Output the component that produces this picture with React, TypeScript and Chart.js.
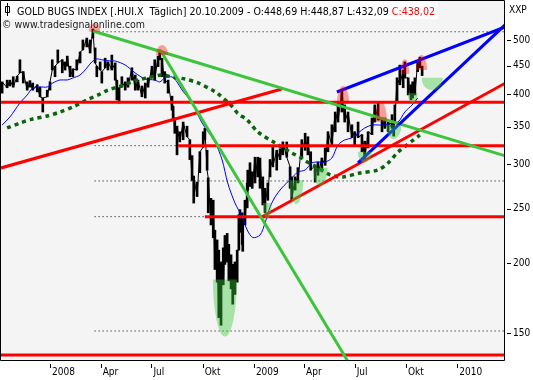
import React, { useEffect, useRef } from "react";
import { Chart, registerables } from "chart.js";

Chart.register(...registerables);

const FONT = "'DejaVu Sans Condensed', 'DejaVu Sans', sans-serif";

// x axis: calendar days counted from 1 Jan 2008
const X_MIN = -88;
const X_MAX = 815;
const Y_MIN = 134.4;
const Y_MAX = 586.8;

const TICK_DAYS = [0, 91, 182, 274, 366, 456, 547, 639, 731];
const TICK_LABELS = ["2008", "Apr", "Jul", "Okt", "2009", "Apr", "Jul", "Okt", "2010"];
const Y_TICKS = [150, 200, 250, 300, 350, 400, 450, 500];

const TITLE_MAIN = "GOLD BUGS INDEX [.HUI.X  Täglich] 20.10.2009 - O:448,69 H:448,87 L:432,09 ";
const TITLE_CLOSE = "C:438,02";
const WATERMARK = "© www.tradesignalonline.com";
const AXIS_NAME = "XXP";

// daily price ranges (sampled)
const BAR_DAYS = [-86,-77,-72,-66,-59,-54,-48,-41,-36,-31,-23,-18,-13,-5,0,4,9,14,22,27,31,36,41,48,54,59,66,72,77,81,84,90,93,99,104,111,117,120,124,129,135,140,147,153,158,165,171,176,183,188,194,197,201,206,212,219,221,224,228,233,239,246,251,255,258,264,269,275,278,282,284,289,293,296,300,303,307,311,314,318,321,325,328,332,336,339,341,345,346,350,354,355,359,363,368,373,377,382,386,391,395,400,407,413,418,425,431,434,440,445,452,458,463,468,476,481,488,494,499,506,512,517,524,529,535,542,547,553,560,565,571,578,583,589,596,601,607,614,617,619,623,628,634,637,643,648,651,655,660,664,668];
const BAR_LOW = [402,411,414,412,421,437,419,407,412,407,404,396,372,396,407,442,430,455,437,442,449,430,430,442,455,480,486,474,504,455,430,442,419,446,442,442,424,391,386,412,407,412,424,407,407,396,394,412,430,424,448,461,430,419,402,375,360,341,312,329,332,336,306,281,256,263,290,322,332,293,246,234,222,195,185,160,155,183,199,201,186,180,169,176,185,211,227,216,210,234,251,270,274,272,278,285,272,254,246,259,285,297,293,306,312,309,272,259,270,278,309,318,312,293,279,287,291,299,316,325,343,357,372,357,343,335,325,335,316,306,321,339,357,360,343,348,343,348,337,357,388,416,411,428,399,391,394,399,439,446,432];
const BAR_HIGH = [421,424,424,430,431,461,439,421,423,419,416,412,394,407,421,461,449,480,461,457,468,449,444,461,476,500,504,500,523,484,449,457,439,464,457,470,455,424,411,430,421,428,446,433,424,414,419,428,449,461,468,480,464,439,424,397,381,363,351,343,357,351,332,311,286,279,316,343,348,318,284,261,259,229,220,211,201,213,224,226,216,207,199,201,211,244,249,246,242,259,278,293,302,291,309,309,308,285,272,278,306,322,318,320,329,329,297,285,285,296,332,341,336,316,299,303,308,321,343,353,372,388,407,383,372,353,343,357,339,330,343,363,383,386,363,363,357,368,357,383,428,451,442,457,428,416,421,428,457,466,449];

// moving averages
const MA_FAST_DAYS = [-86,-72,-54,-41,-31,-18,-5,5,18,31,41,54,66,75,84,95,108,117,135,153,171,188,197,206,219,228,237,255,273,296,309,319,332,345,354,364,377,386,395,404,416,434,445,458,470,481,494,506,517,529,542,553,565,578,589,601,614,625,637,650,660];
const MA_FAST = [352.7,364.5,386.1,398.9,410.6,412.3,412.3,419.1,424.3,424.3,427.8,433.1,445.7,456.8,462.5,460.6,458.7,458.7,451.2,436.7,426.0,424.3,420.9,427.8,429.6,420.9,407.2,386.1,355.6,328.9,305.5,278.0,256.1,241.8,229.2,222.2,224.5,235.9,251.9,262.5,272.3,283.7,290.8,293.2,301.8,303.0,303.0,308.0,324.9,331.7,334.5,341.3,348.4,352.7,352.7,352.7,355.6,357.1,372.1,382.9,394.0];
const MA_SLOW_DAYS = [-77,-54,-31,-5,18,41,66,90,104,122,158,183,201,219,242,266,291,300,328,337,354,373,404,434,449,458,479,503,526,556,589,607,625,650,664];
const MA_SLOW = [348.4,355.6,361.5,366.0,372.1,379.8,390.8,400.6,407.2,412.3,424.3,429.6,433.1,429.6,426.0,419.1,407.2,402.2,379.8,370.0,360.0,342.8,327.5,314.4,309.2,304.3,296.9,287.3,285.0,289.6,293.2,301.8,315.7,330.3,338.5];

// horizontal levels
const RED_LEVELS = [387.2, 324.0, 242.1, 137.2];
const RED_LEVEL_FROM = [-88, 230, 278, -88];
const DOTTED_LEVELS = [517.2, 324.0, 280.3, 242.1, 151.4];
const DOTTED_FROM = 80;
const LEVEL_TO = 850;

// trend lines: [[day, value], [day, value]]
const RED_TRENDS = [[[-88, 295.7], [416, 408.9]], [[380, 241.8], [844, 433.1]]];
const GREEN_TRENDS = [[[77, 518.9], [844, 305.0]], [[199, 477.9], [555, 123.8]]];
const BLUE_TRENDS = [[[515, 403.9], [844, 540.1]], [[553, 301.8], [844, 563.9]]];

// highlighted tops (red) and bottoms (green): centre day, half width in days, upper and lower price
const TOP_MARKS = [
  { day: 80, half: 10, top: 536, bottom: 517 },
  { day: 201, half: 11, top: 490, bottom: 470 },
  { day: 526, half: 11, top: 414, bottom: 385 },
  { day: 594, half: 11, top: 389, bottom: 357 },
  { day: 637, half: 8, top: 462, bottom: 435 },
  { day: 667, half: 10, top: 470, bottom: 442 },
];
const BOTTOM_MARKS = [
  { day: 314, half: 21.5, top: 187, bottom: 148 },
  { day: 390, half: 8, top: 256, bottom: 240 },
  { day: 442, half: 12.5, top: 281, bottom: 255 },
  { day: 485, half: 13.5, top: 296, bottom: 275 },
  { day: 565, half: 12.5, top: 316, bottom: 302 },
  { day: 617, half: 14, top: 353, bottom: 333 },
  { day: 651, half: 9, top: 402, bottom: 386 },
  { day: 686, half: 19, top: 428, bottom: 407 },
];

const bgPlugin = {
  id: "bg",
  beforeDraw(chart: any) {
    const { ctx, chartArea: a } = chart;
    ctx.save();
    ctx.fillStyle = "#ffffff";
    ctx.fillRect(0, 0, chart.width, chart.height);
    ctx.fillStyle = "#f4f4f4";
    ctx.fillRect(a.left, a.top, a.right - a.left, a.bottom - a.top);
    ctx.restore();
  },
};

const marksPlugin = {
  id: "marks",
  afterDatasetsDraw(chart: any) {
    const { ctx, chartArea: a } = chart;
    const xs = chart.scales.x;
    const ys = chart.scales.y;
    ctx.save();
    ctx.beginPath();
    ctx.rect(a.left, a.top, a.right - a.left, a.bottom - a.top);
    ctx.clip();
    const draw = (m: any, dome: boolean, fill: string) => {
      const cx = xs.getPixelForValue(m.day);
      const rx = Math.abs(xs.getPixelForValue(m.day + m.half) - cx);
      const yT = ys.getPixelForValue(m.top);
      const yB = ys.getPixelForValue(m.bottom);
      ctx.beginPath();
      if (dome) ctx.ellipse(cx, yB, rx, yB - yT, 0, Math.PI, 2 * Math.PI);
      else ctx.ellipse(cx, yT, rx, yB - yT, 0, 0, Math.PI);
      ctx.closePath();
      ctx.fillStyle = fill;
      ctx.fill();
    };
    TOP_MARKS.forEach((m) => draw(m, true, "rgba(255,0,0,0.36)"));
    BOTTOM_MARKS.forEach((m) => draw(m, false, "rgba(60,200,60,0.42)"));
    ctx.restore();
  },
};

const framePlugin = {
  id: "frame",
  afterDraw(chart: any) {
    const { ctx, chartArea: a } = chart;
    const xs = chart.scales.x;
    const ys = chart.scales.y;
    ctx.save();
    ctx.strokeStyle = "#000";
    ctx.lineWidth = 1;
    ctx.beginPath();
    ctx.moveTo(0.5, 0.5);
    ctx.lineTo(a.right + 0.5, 0.5);
    ctx.lineTo(a.right + 0.5, a.bottom + 0.5);
    ctx.lineTo(0.5, a.bottom + 0.5);
    ctx.closePath();
    ctx.stroke();
    ctx.beginPath();
    xs.ticks.forEach((t: any) => {
      const px = Math.round(xs.getPixelForValue(t.value)) + 0.5;
      ctx.moveTo(px, a.bottom + 4);
      ctx.lineTo(px, a.bottom + 8);
    });
    ys.ticks.forEach((t: any) => {
      const py = Math.round(ys.getPixelForValue(t.value)) + 0.5;
      ctx.moveTo(a.right + 3, py);
      ctx.lineTo(a.right + 7, py);
    });
    ctx.stroke();

    // title box
    ctx.fillStyle = "#ffffff";
    ctx.fillRect(1, 1, 437, 18);
    ctx.strokeStyle = "#000";
    ctx.beginPath();
    ctx.moveTo(7.5, 3);
    ctx.lineTo(7.5, 16);
    ctx.rect(5.5, 6.5, 4, 6);
    ctx.stroke();

    ctx.font = `11px ${FONT}`;
    ctx.textBaseline = "alphabetic";
    const w1 = ctx.measureText(TITLE_MAIN).width;
    const w2 = ctx.measureText(TITLE_CLOSE).width;
    const sx = 418 / (w1 + w2);
    ctx.save();
    ctx.translate(17, 15);
    ctx.scale(sx, 1);
    ctx.fillStyle = "#000";
    ctx.fillText(TITLE_MAIN, 0, 0);
    ctx.fillStyle = "#ff0000";
    ctx.fillText(TITLE_CLOSE, w1, 0);
    ctx.restore();

    const ww = ctx.measureText(WATERMARK).width;
    ctx.save();
    ctx.translate(2, 28);
    ctx.scale(143 / ww, 1);
    ctx.fillStyle = "#222";
    ctx.fillText(WATERMARK, 0, 0);
    ctx.restore();

    ctx.font = `10px ${FONT}`;
    ctx.fillStyle = "#000";
    ctx.fillText(AXIS_NAME, a.right + 5, 13);
    ctx.restore();
  },
};

function seg(pts: number[][], color: string, width: number, order: number, dash: number[] = []) {
  return {
    type: "line",
    data: pts.map(([x, y]) => ({ x, y })),
    borderColor: color,
    borderWidth: width,
    borderDash: dash,
    pointRadius: 0,
    tension: 0,
    fill: false,
    order,
  };
}

export default function App() {
  const ref = useRef<HTMLCanvasElement>(null);

  useEffect(() => {
    const canvas = ref.current;
    if (!canvas) return;
    Chart.defaults.font.family = FONT;

    const datasets: any[] = [];
    DOTTED_LEVELS.forEach((v) =>
      datasets.push(seg([[DOTTED_FROM, v], [LEVEL_TO, v]], "#000000", 1, 200, [1, 3]))
    );
    datasets.push({
      type: "bar",
      data: BAR_DAYS.map((d, i) => ({ x: d, y: [BAR_LOW[i], BAR_HIGH[i]] })),
      backgroundColor: "#000000",
      borderWidth: 0,
      barThickness: 2,
      grouped: false,
      order: 100,
    });
    // thin trace joining the daily ranges so the series reads as one continuous path
    datasets.push({
      type: "line",
      data: BAR_DAYS.map((d, i) => ({ x: d, y: i % 2 === 0 ? BAR_HIGH[i] : BAR_LOW[i] })),
      borderColor: "#000000",
      borderWidth: 1,
      pointRadius: 0,
      tension: 0,
      fill: false,
      order: 99,
    });
    datasets.push({
      type: "line",
      data: MA_FAST_DAYS.map((d, i) => ({ x: d, y: MA_FAST[i] })),
      borderColor: "#0000ff",
      borderWidth: 1,
      pointRadius: 0,
      tension: 0.3,
      fill: false,
      order: 50,
    });
    datasets.push({
      type: "line",
      data: MA_SLOW_DAYS.map((d, i) => ({ x: d, y: MA_SLOW[i] })),
      borderColor: "#0b640b",
      borderWidth: 3.5,
      borderDash: [4, 4],
      pointRadius: 0,
      tension: 0.3,
      fill: false,
      order: 49,
    });
    RED_LEVELS.forEach((v, i) =>
      datasets.push(seg([[RED_LEVEL_FROM[i], v], [LEVEL_TO, v]], "#ff0000", 3, 10))
    );
    RED_TRENDS.forEach((p) => datasets.push(seg(p, "#ff0000", 3, 10)));
    GREEN_TRENDS.forEach((p) => datasets.push(seg(p, "#3cc43c", 3, 9)));
    BLUE_TRENDS.forEach((p) => datasets.push(seg(p, "#0000ff", 3, 8)));

    const chart = new Chart(canvas, {
      type: "bar",
      data: { datasets },
      options: {
        animation: false,
        responsive: false,
        events: [],
        layout: { padding: { left: 1, top: 1, right: 0, bottom: 0 } },
        plugins: { legend: { display: false }, tooltip: { enabled: false }, title: { display: false } },
        scales: {
          x: {
            type: "linear",
            position: "bottom",
            min: X_MIN,
            max: X_MAX,
            offset: false,
            grid: { display: false, drawTicks: false },
            border: { display: false },
            afterBuildTicks: (s: any) => {
              s.ticks = TICK_DAYS.map((v) => ({ value: v }));
            },
            afterFit: (s: any) => {
              s.height = 20;
              s.paddingLeft = 0;
              s.paddingRight = 0;
            },
            ticks: {
              autoSkip: false,
              maxRotation: 0,
              minRotation: 0,
              align: "start",
              labelOffset: 2,
              padding: 6,
              color: "#000",
              font: { family: FONT, size: 10 },
              callback: (_v: any, i: number) => TICK_LABELS[i],
            },
          },
          y: {
            type: "logarithmic",
            position: "right",
            min: Y_MIN,
            max: Y_MAX,
            grid: { display: false, drawTicks: false },
            border: { display: false },
            afterBuildTicks: (s: any) => {
              s.ticks = Y_TICKS.map((v) => ({ value: v }));
            },
            afterFit: (s: any) => {
              s.width = 29;
              s.paddingTop = 0;
              s.paddingBottom = 0;
            },
            ticks: {
              padding: 9,
              color: "#000",
              font: { family: FONT, size: 10 },
              callback: (v: any) => String(v),
            },
          },
        },
      } as any,
      plugins: [bgPlugin, marksPlugin, framePlugin],
    } as any);

    return () => chart.destroy();
  }, []);

  return (
    <div style={{ position: "absolute", left: 0, top: 0, width: 533, height: 380, background: "#fff" }}>
      <canvas ref={ref} width={533} height={380} style={{ display: "block" }} />
    </div>
  );
}
